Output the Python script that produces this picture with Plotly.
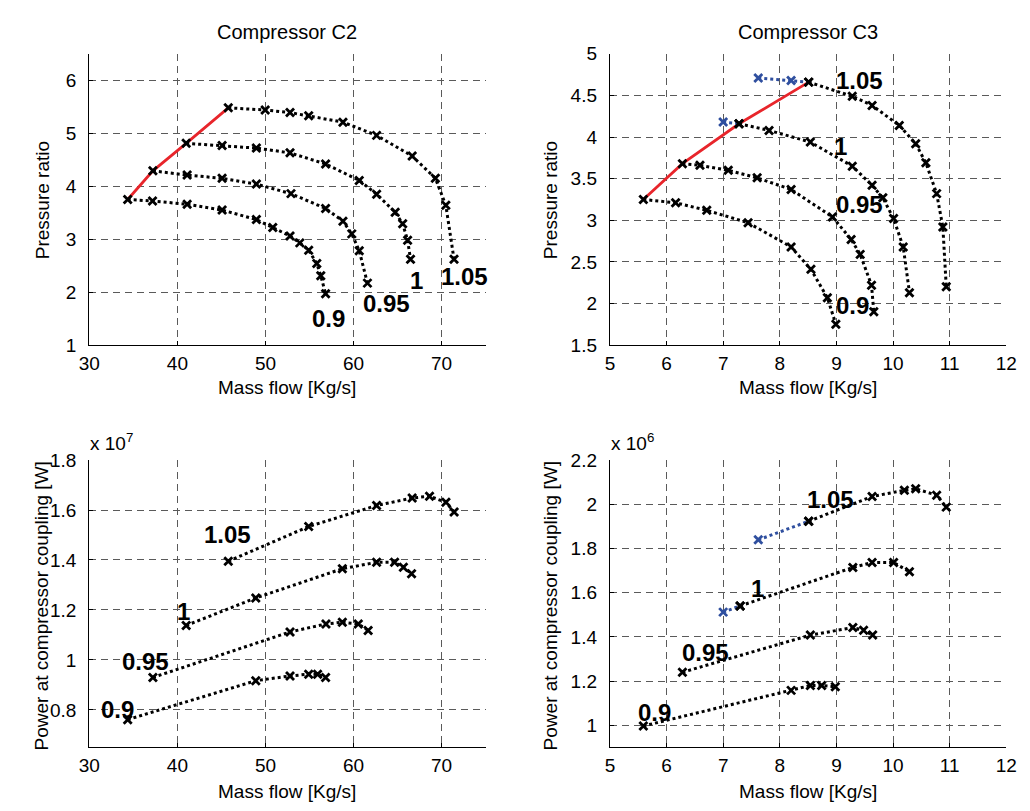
import plotly.graph_objects as go

# ---------------- Compressor C2 : pressure ratio map ----------------
c2_speeds = ["0.9", "0.95", "1", "1.05"]
c2_pr_flow = [
    [34.36, 37.18, 41.11, 45.08, 48.97, 50.83, 52.79, 53.90, 54.91, 55.83, 56.28, 56.83],
    [37.22, 41.11, 45.08, 48.97, 52.90, 56.83, 58.80, 59.80, 60.65, 61.58],
    [41.00, 45.08, 48.97, 52.79, 56.83, 60.65, 62.62, 64.73, 65.58, 66.14, 66.47],
    [45.78, 49.97, 52.79, 54.91, 58.80, 62.62, 66.66, 69.29, 70.48, 71.41],
]
c2_pr = [
    [3.75, 3.72, 3.66, 3.55, 3.37, 3.22, 3.06, 2.93, 2.79, 2.54, 2.31, 1.97],
    [4.29, 4.21, 4.15, 4.04, 3.86, 3.58, 3.34, 3.10, 2.78, 2.17],
    [4.81, 4.77, 4.72, 4.63, 4.42, 4.11, 3.85, 3.51, 3.29, 2.98, 2.62],
    [5.48, 5.44, 5.39, 5.33, 5.21, 4.96, 4.57, 4.15, 3.64, 2.62],
]
c2_surge_flow = [34.36, 37.22, 41.00, 45.78]
c2_surge_pr = [3.75, 4.29, 4.81, 5.48]

# ---------------- Compressor C2 : coupling power ----------------
c2_pw_flow = [
    [34.36, 48.90, 52.79, 54.91, 55.92, 56.83],
    [37.22, 52.79, 56.87, 58.73, 60.54, 61.66],
    [41.00, 48.90, 58.73, 62.62, 64.66, 65.66, 66.59],
    [45.78, 54.91, 62.62, 66.66, 68.63, 70.49, 71.42],
]
c2_power = [
    [0.761e7, 0.917e7, 0.936e7, 0.943e7, 0.943e7, 0.930e7],
    [0.930e7, 1.112e7, 1.144e7, 1.151e7, 1.144e7, 1.118e7],
    [1.138e7, 1.248e7, 1.365e7, 1.391e7, 1.391e7, 1.371e7, 1.345e7],
    [1.395e7, 1.534e7, 1.618e7, 1.648e7, 1.655e7, 1.631e7, 1.592e7],
]

# ---------------- Compressor C3 : pressure ratio map ----------------
c3_speeds = ["0.9", "0.95", "1", "1.05"]
c3_pr_flow = [
    [5.59, 6.16, 6.71, 7.44, 8.20, 8.55, 8.84, 8.99],
    [6.28, 6.59, 7.09, 7.60, 8.20, 8.93, 9.26, 9.42, 9.62, 9.66],
    [7.28, 7.81, 8.54, 9.28, 9.63, 9.82, 10.01, 10.18, 10.29],
    [8.51, 9.28, 9.63, 10.11, 10.40, 10.58, 10.77, 10.88, 10.94],
]
c3_pr = [
    [3.25, 3.21, 3.12, 2.97, 2.68, 2.41, 2.07, 1.75],
    [3.68, 3.66, 3.60, 3.51, 3.37, 3.04, 2.77, 2.59, 2.22, 1.90],
    [4.16, 4.08, 3.94, 3.65, 3.42, 3.27, 3.02, 2.68, 2.13],
    [4.66, 4.49, 4.38, 4.14, 3.92, 3.69, 3.32, 2.92, 2.20],
]
# extension of the 1 and 1.05 lines beyond the surge line
c3_ext_speeds = ["1", "1.05"]
c3_ext_flow = [[7.00, 7.28], [7.62, 8.20, 8.51]]
c3_ext_pr = [[4.18, 4.16], [4.71, 4.68, 4.66]]
c3_surge_flow = [5.59, 6.28, 7.28, 8.51]
c3_surge_pr = [3.25, 3.68, 4.16, 4.66]

# ---------------- Compressor C3 : coupling power ----------------
c3_pw_flow = [
    [5.59, 8.20, 8.54, 8.74, 8.98],
    [6.28, 8.54, 9.29, 9.48, 9.64],
    [7.30, 9.29, 9.63, 10.01, 10.29],
    [8.51, 9.63, 10.20, 10.40, 10.77, 10.94],
]
c3_power = [
    [0.997e6, 1.158e6, 1.180e6, 1.180e6, 1.174e6],
    [1.240e6, 1.408e6, 1.442e6, 1.430e6, 1.408e6],
    [1.540e6, 1.714e6, 1.736e6, 1.736e6, 1.695e6],
    [1.923e6, 2.035e6, 2.063e6, 2.070e6, 2.041e6, 1.987e6],
]
c3_ext_pw_flow = [[7.00, 7.30], [7.62, 8.51]]
c3_ext_power = [[1.512e6, 1.540e6], [1.839e6, 1.923e6]]

# speed-line label positions (data coordinates)
c2_pr_label_x = [57.2, 63.7, 67.1, 72.6]
c2_pr_label_y = [1.50, 1.78, 2.22, 2.30]
c2_pw_label_x = [33.2, 36.4, 40.7, 45.7]
c2_pw_label_y = [0.80e7, 0.995e7, 1.195e7, 1.50e7]
c3_pr_label_x = [9.28, 9.40, 9.07, 9.40]
c3_pr_label_y = [1.98, 3.19, 3.89, 4.68]
c3_pw_label_x = [5.78, 6.69, 7.60, 8.90]
c3_pw_label_y = [1.06e6, 1.33e6, 1.62e6, 2.02e6]

# tick labels
c2_pw_tickvals = [0.8e7, 1.0e7, 1.2e7, 1.4e7, 1.6e7, 1.8e7]
c2_pw_ticktext = ["0.8", "1", "1.2", "1.4", "1.6", "1.8"]
c3_pw_tickvals = [1.0e6, 1.2e6, 1.4e6, 1.6e6, 1.8e6, 2.0e6, 2.2e6]
c3_pw_ticktext = ["1", "1.2", "1.4", "1.6", "1.8", "2", "2.2"]

# ---------------- styling ----------------
W, H = 1030, 811
FONT = "Arial, Liberation Sans, sans-serif"
BLACK = "#000000"
BLUE = "#2f4f9f"
RED = "#e8252b"
GRID = "#5a5a5a"


def px_x(p):
    return p / W


def px_y(p):
    return 1 - p / H


fig = go.Figure()


def speed_line(x, y, xa, ya, color=BLACK, marker_color=None):
    fig.add_trace(go.Scatter(
        x=x, y=y, xaxis=xa, yaxis=ya, mode="lines+markers",
        line=dict(color=color, width=3, dash="dot"),
        marker=dict(symbol="x-thin", size=8,
                    line=dict(width=2.8, color=marker_color or color)),
        showlegend=False, hoverinfo="skip",
    ))


def surge_line(x, y, xa, ya):
    fig.add_trace(go.Scatter(
        x=x, y=y, xaxis=xa, yaxis=ya, mode="lines",
        line=dict(color=RED, width=2.8),
        showlegend=False, hoverinfo="skip",
    ))


def extension_line(x, y, xa, ya):
    # blue dotted part; the last point sits on the main speed line
    colors = [BLUE] * (len(x) - 1) + [BLACK]
    fig.add_trace(go.Scatter(
        x=x, y=y, xaxis=xa, yaxis=ya, mode="lines+markers",
        line=dict(color=BLUE, width=3, dash="dot"),
        marker=dict(symbol="x-thin", size=8, color=colors,
                    line=dict(width=2.8, color=colors)),
        showlegend=False, hoverinfo="skip",
    ))


# C2 pressure ratio
surge_line(c2_surge_flow, c2_surge_pr, "x", "y")
for fx, fy in zip(c2_pr_flow, c2_pr):
    speed_line(fx, fy, "x", "y")

# C3 pressure ratio
surge_line(c3_surge_flow, c3_surge_pr, "x2", "y2")
for fx, fy in zip(c3_ext_flow, c3_ext_pr):
    extension_line(fx, fy, "x2", "y2")
for fx, fy in zip(c3_pr_flow, c3_pr):
    speed_line(fx, fy, "x2", "y2")

# C2 power
for fx, fy in zip(c2_pw_flow, c2_power):
    speed_line(fx, fy, "x3", "y3")

# C3 power
for fx, fy in zip(c3_ext_pw_flow, c3_ext_power):
    extension_line(fx, fy, "x4", "y4")
for fx, fy in zip(c3_pw_flow, c3_power):
    speed_line(fx, fy, "x4", "y4")

# ---------------- axes ----------------
tick_font = dict(family=FONT, size=19, color="#000")
common = dict(
    showline=True, linecolor="#000", linewidth=1.2, mirror=False,
    ticks="inside", ticklen=4, tickcolor="#000", tickwidth=1,
    showgrid=True, gridcolor=GRID, gridwidth=1, griddash="7px,5px",
    zeroline=False, tickfont=tick_font, fixedrange=True,
)

left_dom = [px_x(80), px_x(485)]
right_dom = [px_x(612), px_x(1017)]
top_dom = [px_y(344), px_y(45)]
bot_dom = [px_y(757), px_y(462)]

fig.update_layout(
    width=W, height=H,
    margin=dict(l=0, r=0, t=0, b=0),
    paper_bgcolor="white", plot_bgcolor="white",
    font=dict(family=FONT, size=19, color="#000"),
    xaxis=dict(domain=left_dom, range=[30, 75], tickvals=[30, 40, 50, 60, 70],
               anchor="y", ticklabelstandoff=1, **common),
    yaxis=dict(domain=top_dom, range=[1, 6.5], tickvals=[1, 2, 3, 4, 5, 6],
               anchor="x", ticklabelstandoff=8, **common),
    xaxis2=dict(domain=right_dom, range=[5, 12], tickvals=list(range(5, 13)),
                anchor="y2", ticklabelstandoff=1, **common),
    yaxis2=dict(domain=top_dom, range=[1.5, 5],
                tickvals=[1.5, 2, 2.5, 3, 3.5, 4, 4.5, 5],
                ticktext=["1.5", "2", "2.5", "3", "3.5", "4", "4.5", "5"],
                anchor="x2", ticklabelstandoff=8, **common),
    xaxis3=dict(domain=left_dom, range=[30, 75], tickvals=[30, 40, 50, 60, 70],
                anchor="y3", ticklabelstandoff=1, **common),
    yaxis3=dict(domain=bot_dom, range=[0.65e7, 1.8e7], tickvals=c2_pw_tickvals,
                ticktext=c2_pw_ticktext, anchor="x3", ticklabelstandoff=8, **common),
    xaxis4=dict(domain=right_dom, range=[5, 12], tickvals=list(range(5, 13)),
                anchor="y4", ticklabelstandoff=1, **common),
    yaxis4=dict(domain=bot_dom, range=[0.9e6, 2.2e6], tickvals=c3_pw_tickvals,
                ticktext=c3_pw_ticktext, anchor="x4", ticklabelstandoff=8, **common),
)

# ---------------- annotations ----------------
ann = []


def paper_text(text, x, y, size=19, angle=0, xanchor="center", yanchor="middle"):
    ann.append(dict(text=text, x=px_x(x), y=px_y(y), xref="paper", yref="paper",
                    showarrow=False, textangle=angle, xanchor=xanchor,
                    yanchor=yanchor, font=dict(family=FONT, size=size, color="#000")))


paper_text("Compressor C2", 282, 23, size=20)
paper_text("Compressor C3", 814, 23, size=20)
paper_text("Mass flow [Kg/s]", 282, 388)
paper_text("Mass flow [Kg/s]", 814, 388)
paper_text("Mass flow [Kg/s]", 282, 802)
paper_text("Mass flow [Kg/s]", 814, 802)
paper_text("Pressure ratio", 33, 195, angle=-90)
paper_text("Pressure ratio", 552, 195, angle=-90)
paper_text("Power at compressor coupling [W]", 31, 612, angle=-90)
paper_text("Power at compressor coupling [W]", 551, 612, angle=-90)
paper_text("x 10<sup>7</sup>", 79, 443, size=19, xanchor="left")
paper_text("x 10<sup>6</sup>", 611, 443, size=19, xanchor="left")


def speed_labels(names, xs, ys, xr, yr):
    for n, x, y in zip(names, xs, ys):
        ann.append(dict(text="<b>%s</b>" % n, x=x, y=y, xref=xr, yref=yr,
                        showarrow=False, xanchor="center", yanchor="middle",
                        font=dict(family=FONT, size=24, color="#000")))


speed_labels(c2_speeds, c2_pr_label_x, c2_pr_label_y, "x", "y")
speed_labels(c3_speeds, c3_pr_label_x, c3_pr_label_y, "x2", "y2")
speed_labels(c2_speeds, c2_pw_label_x, c2_pw_label_y, "x3", "y3")
speed_labels(c3_speeds, c3_pw_label_x, c3_pw_label_y, "x4", "y4")

fig.update_layout(annotations=ann)

fig.write_html("out.html")
